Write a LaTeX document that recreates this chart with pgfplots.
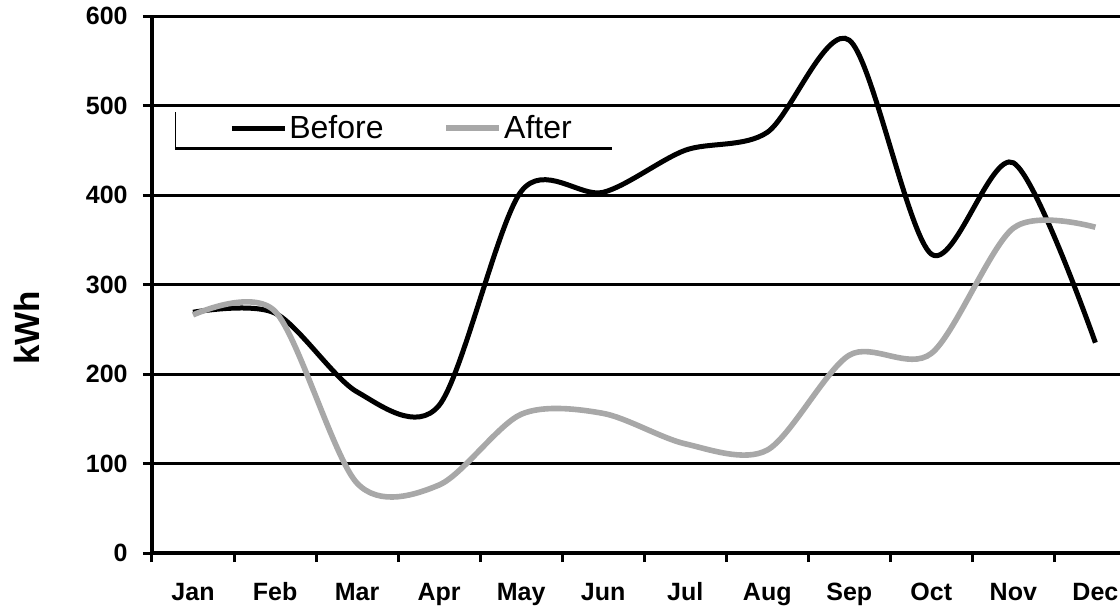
\documentclass[border=0pt]{standalone}
\usepackage{fontspec}
\setmainfont{Liberation Sans}
\usepackage{pgfplots}
\pgfplotsset{compat=1.18}
\usepackage{pgfplotstable}

\definecolor{aftergray}{RGB}{168,168,168}

% monthly consumption
\pgfplotstableread{
m  before after
0  269    266
1  268    270
2  180    78
3  165    76
4  404    155
5  403    156
6  450    122
7  470    115
8  573    221
9  334    223
10 436    363
11 235    364
}\kwh

\begin{document}
\begin{tikzpicture}
\begin{axis}[
    at={(0,0)}, anchor=south west,
    scale only axis,
    width=484pt, height=268.5pt,
    xmin=-0.5, xmax=11.3,
    ymin=0, ymax=600,
    ytick={0,100,...,600},
    axis x line*=bottom,
    axis y line*=left,
    axis line style={line width=2pt, -},
    tick align=outside,
    major tick length=4.5pt,
    tick style={line width=1.5pt, black},
    xtick={-0.5,0.5,...,10.5},
    xticklabels={},
    extra x ticks={0,...,11},
    extra x tick labels={Jan,Feb,Mar,Apr,May,Jun,Jul,Aug,Sep,Oct,Nov,Dec},
    extra x tick style={major tick length=0pt, grid=none,
        tick label style={inner sep=0pt, anchor=base, yshift=-23.5pt}},
    yticklabel style={inner sep=0pt, anchor=east, xshift=-7.5pt},
    tick label style={font=\bfseries\fontsize{12.5}{14}\selectfont},
    /pgf/number format/assume math mode=true,
    ymajorgrids,
    major grid style={line width=1.5pt, black},
    ylabel={\bfseries kWh},
    ylabel style={font=\fontsize{17.5}{20}\selectfont, rotate=0,
        at={(axis description cs:-0.129,0.419)}, anchor=center},
    legend columns=2,
    legend image code/.code={\draw[#1] (0pt,0pt) -- (26.5pt,0pt);},
    legend style={at={(rel axis cs:0.0795,0.791)}, anchor=west,
        draw=none, fill=none, inner sep=0pt,
        font=\fontsize{16}{19}\selectfont,
        nodes={inner sep=1pt},
        /tikz/every odd column/.append style={column sep=0pt},
        /tikz/every even column/.append style={column sep=29pt}},
    clip=false,
]
\addplot[black, line width=2.5pt, smooth, tension=0.5] table[x=m, y=before] {\kwh};
\addplot[aftergray, line width=2.8pt, smooth, tension=0.5] table[x=m, y=after] {\kwh};
\legend{Before, After}
\draw[line width=0.5pt] (rel axis cs:0.0238,0.821) -- (rel axis cs:0.0238,0.754);
\draw[line width=1.5pt] (rel axis cs:0.0238,0.754) -- (rel axis cs:0.475,0.754);
\end{axis}
\pgfresetboundingbox
\useasboundingbox (-76pt,-26.5pt) rectangle (484pt,276.5pt);
\end{tikzpicture}
\end{document}
